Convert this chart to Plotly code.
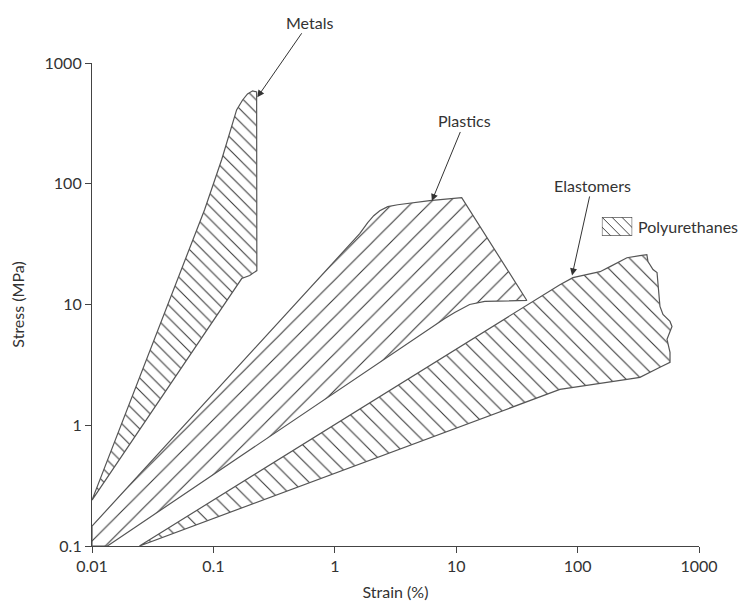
import numpy as np
import plotly.graph_objects as go

# ---- data (strain %, stress MPa) ----
metals_strain = [0.01, 0.059, 0.0846, 0.1169, 0.1553, 0.174, 0.191, 0.2105, 0.227, 0.228, 0.199, 0.171, 0.01]
metals_stress = [0.24, 23.5, 61.0, 158, 409, 494, 555, 588, 576, 19.1, 17.4, 16.4, 0.24]

plastics_strain = [0.01, 1.604, 1.867, 2.093, 2.345, 2.73, 3.30, 6.05, 11.1, 38.2, 17.2, 12.9, 9.72, 8.05,
                   0.0134, 0.01, 0.01]
plastics_stress = [0.146, 38.6, 47.7, 54.4, 59.8, 64.6, 67.0, 72.4, 76.6, 10.8, 10.6, 10.0, 8.59, 7.66,
                   0.1, 0.1, 0.146]

elast_strain = [0.0246, 71.5, 91.5, 119, 153, 185, 255, 326, 372, 380, 418, 451, 459, 477, 505,
                577, 599, 545, 577, 577, 477, 326, 255, 153, 71.5, 0.0246]
elast_stress = [0.1, 14.6, 16.7, 17.7, 18.7, 20.6, 24.4, 25.4, 25.9, 22.7, 19.5, 18.4, 14.1, 9.63, 8.26,
                7.24, 6.58, 5.14, 4.01, 3.32, 3.02, 2.49, 2.40, 2.22, 1.98, 0.1]

labels = ["Metals", "Plastics", "Elastomers"]
label_tip_strain = [0.23, 6.3, 90]
label_tip_stress = [520, 72, 17.4]
label_offsets = [(52, -75), (33, -80), (20, -90)]

legend_label = "Polyurethanes"
legend_box_x = [0, 1, 1, 0, 0]
legend_box_y = [0, 0, 1, 1, 0]

x_ticks = [0.01, 0.1, 1, 10, 100, 1000]
x_tick_text = ["0.01", "0.1", "1", "10", "100", "1000"]
y_ticks = [0.1, 1, 10, 100, 1000]
y_tick_text = ["0.1", "1", "10", "100", "1000"]

FONT = "Lato, 'Open Sans', sans-serif"
LINE = "#555555"
HATCH = "#3a3a3a"
TXT = "#333333"
FS = 16

fig = go.Figure()

def region(xs, ys, shape, size, solidity, xaxis="x", yaxis="y"):
    fig.add_trace(go.Scatter(
        x=xs, y=ys, mode="lines", fill="toself", showlegend=False,
        xaxis=xaxis, yaxis=yaxis,
        line=dict(color=LINE, width=1.2),
        fillcolor="white",
        fillpattern=dict(shape=shape, size=size, solidity=solidity,
                         fgcolor=HATCH, bgcolor="white", fgopacity=1),
        hoverinfo="skip",
    ))

region(metals_strain, metals_stress, "\\", 9, 0.12)
region(plastics_strain, plastics_stress, "/", 13, 0.085)
region(elast_strain, elast_stress, "\\", 11, 0.1)
# legend swatch on its own small axis
region(legend_box_x, legend_box_y, "\\", 7, 0.14, xaxis="x2", yaxis="y2")

for lab, tx, ty, (ax, ay) in zip(labels, label_tip_strain, label_tip_stress, label_offsets):
    fig.add_annotation(x=np.log10(tx), y=np.log10(ty), xref="x", yref="y",
                       text=lab, showarrow=True, ax=ax, ay=ay,
                       arrowhead=2, arrowsize=1.4, arrowwidth=1, arrowcolor="#333",
                       font=dict(family=FONT, size=FS, color=TXT))

fig.add_annotation(x=0.897, y=0.661, xref="paper", yref="paper", text=legend_label,
                   showarrow=False, xanchor="left", yanchor="middle",
                   font=dict(family=FONT, size=FS, color=TXT))

axis_common = dict(type="log", showgrid=False, zeroline=False, showline=True,
                   linecolor="#444", linewidth=1.2, ticks="outside", ticklen=6,
                   tickcolor="#444", tickwidth=1.2, mirror=False,
                   tickfont=dict(family=FONT, size=FS, color=TXT))

fig.update_layout(
    xaxis=dict(range=[-2, 3], tickvals=x_ticks, ticktext=x_tick_text,
               title=dict(text="Strain (%)", font=dict(family=FONT, size=FS, color=TXT), standoff=12),
               **axis_common),
    yaxis=dict(range=[-1, 3], tickvals=y_ticks, ticktext=y_tick_text,
               title=dict(text="Stress (MPa)", font=dict(family=FONT, size=FS, color=TXT), standoff=20),
               **axis_common),
    xaxis2=dict(domain=[0.840, 0.890], range=[0, 1], visible=False, anchor="y2"),
    yaxis2=dict(domain=[0.642, 0.681], range=[0, 1], visible=False, anchor="x2"),
    width=739, height=593,
    margin=dict(l=84, r=48, t=55, b=55, autoexpand=False),
    plot_bgcolor="white", paper_bgcolor="white",
    showlegend=False,
    font=dict(family=FONT),
)

fig.write_html("out.html")
